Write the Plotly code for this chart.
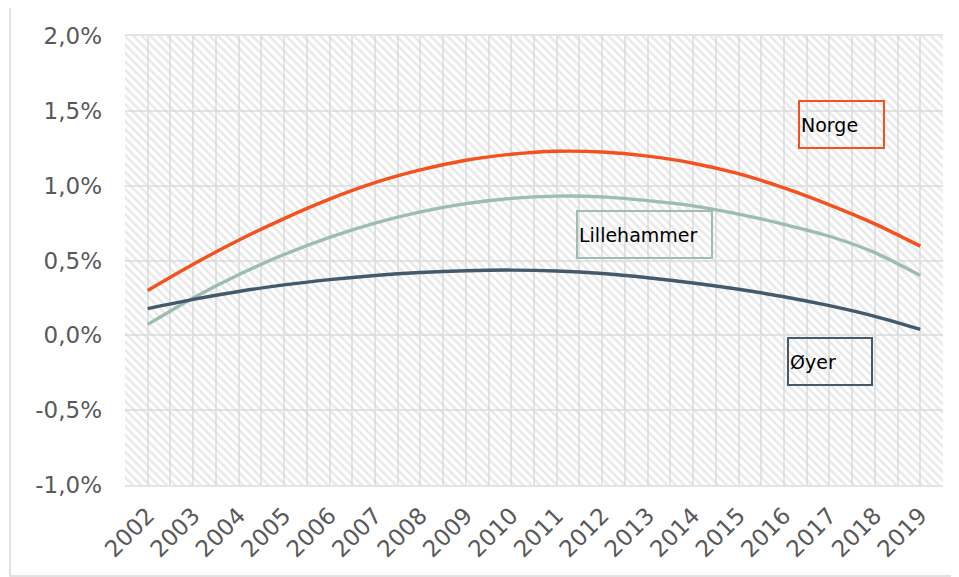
import plotly.graph_objects as go

years = list(range(2002, 2020))
norge = [0.30, 0.475, 0.635, 0.78, 0.91, 1.02, 1.105, 1.17, 1.21, 1.23, 1.225, 1.197, 1.15, 1.08, 0.985, 0.872, 0.745, 0.596]
lillehammer = [0.073, 0.25, 0.405, 0.54, 0.655, 0.75, 0.825, 0.88, 0.915, 0.93, 0.925, 0.90, 0.865, 0.81, 0.742, 0.662, 0.553, 0.40]
oyer = [0.178, 0.24, 0.293, 0.337, 0.372, 0.40, 0.42, 0.432, 0.436, 0.43, 0.413, 0.385, 0.35, 0.308, 0.258, 0.198, 0.127, 0.04]

y_tickvals = [-1.0, -0.5, 0.0, 0.5, 1.0, 1.5, 2.0]
y_ticktext = ["-1,0%", "-0,5%", "0,0%", "0,5%", "1,0%", "1,5%", "2,0%"]
x_range = [years[0] - 0.5, years[-1] + 0.5]
y_range = [-1.0, 2.0]

C_NORGE = "#F4511E"
C_LILLE = "#9DBDB0"
C_OYER = "#44596A"
GRID = "#e4e4e4"

fig = go.Figure()

# hatched plot-area background
fig.add_trace(go.Scatter(
    x=[x_range[0], x_range[1], x_range[1], x_range[0], x_range[0]],
    y=[y_range[0], y_range[0], y_range[1], y_range[1], y_range[0]],
    mode="lines", line=dict(width=0), fill="toself",
    fillcolor="rgba(0,0,0,0)",
    fillpattern=dict(shape="\\", fgcolor="#d4d4d4", bgcolor="rgba(0,0,0,0)", size=6, solidity=0.42),
    hoverinfo="skip", showlegend=False))

for name, vals, col in [("Norge", norge, C_NORGE), ("Lillehammer", lillehammer, C_LILLE), ("Øyer", oyer, C_OYER)]:
    fig.add_trace(go.Scatter(x=years, y=vals, mode="lines", name=name,
                             line=dict(color=col, width=3.4, shape="spline", smoothing=0.8),
                             showlegend=False))

font_lbl = dict(family="DejaVu Sans", size=19, color="#000000")
for text, x, y, col, w in [("Norge", 2017.27, 1.406, C_NORGE, 81),
                           ("Lillehammer", 2012.93, 0.671, C_LILLE, 131),
                           ("Øyer", 2017.01, -0.177, C_OYER, 80)]:
    fig.add_annotation(x=x, y=y, xref="x", yref="y", text=text, showarrow=False,
                       font=font_lbl, align="left", width=w, height=43,
                       bordercolor=col, borderwidth=2, borderpad=1, valign="middle")

# page body has an 8px default margin; size the figure to compensate
fig.update_layout(
    width=951, height=569,
    margin=dict(l=117, r=16, t=28, b=92, autoexpand=False),
    paper_bgcolor="white", plot_bgcolor="white",
    showlegend=False,
    shapes=[dict(type="rect", xref="paper", yref="paper",
                 x0=(10 - 125) / 818, x1=(954 - 125) / 818,
                 y0=(485 - 576) / 449, y1=(485 - 7) / 449,
                 line=dict(color="#d9d9d9", width=1.5), layer="below")],
)
fig.update_xaxes(
    range=x_range, tickmode="array", tickvals=years, ticktext=[str(y) for y in years],
    tickangle=-45, tickfont=dict(family="DejaVu Sans", size=23, color="#595959"),
    showgrid=True, gridcolor=GRID, gridwidth=2,
    minor=dict(dtick=1, tick0=2001.5, showgrid=True, gridcolor=GRID, gridwidth=2),
    showline=True, linecolor=GRID, linewidth=2, mirror=True, automargin=False,
    zeroline=False, ticks="", ticklabelstandoff=6)
fig.update_yaxes(
    range=y_range, tickmode="array", tickvals=y_tickvals, ticktext=y_ticktext,
    tickfont=dict(family="DejaVu Sans", size=23, color="#595959"),
    showgrid=True, gridcolor=GRID, gridwidth=2, automargin=False,
    zeroline=False, showline=False, ticks="", ticklabelstandoff=22)

fig.write_html("out.html")
